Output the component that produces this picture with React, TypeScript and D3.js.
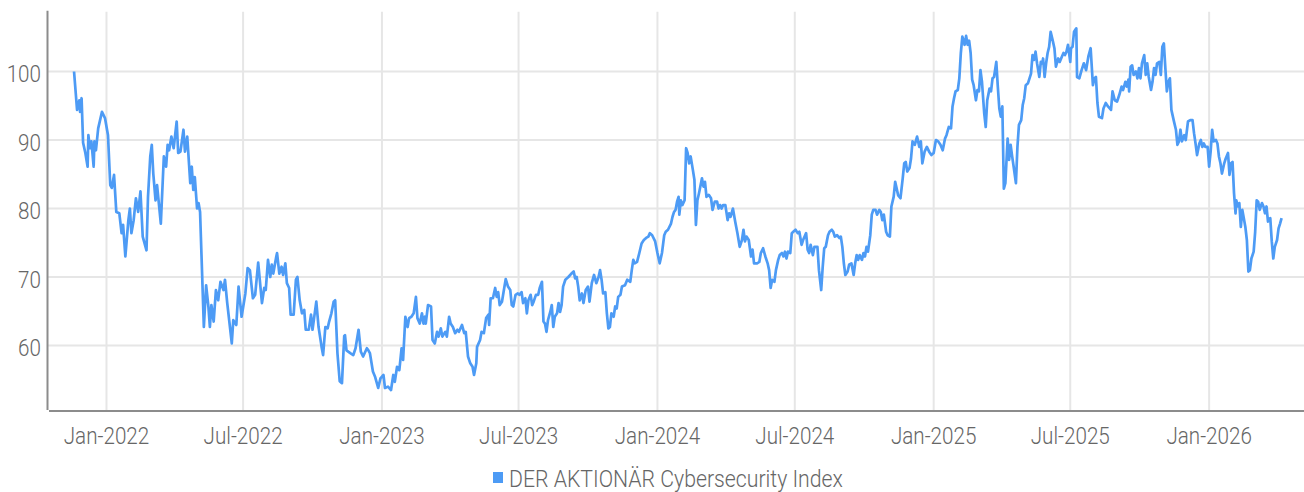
import React, { useEffect, useRef } from 'react';
import * as d3 from 'd3';

// index level per session, as [days since 2022-01-01, level]
const series2021: [number, number][] = [
  [-43, 100], [-39, 94.4], [-36, 95.8], [-35, 94.1], [-33, 96.1], [-31, 89.6], [-28, 88.1], [-25, 86.1],
  [-24, 90.7], [-22, 88.8], [-20, 89.8], [-17, 86.1], [-16, 89.8], [-14, 88.5], [-11, 91.7], [-6, 94.1], [-2, 93.2],
];

const series2022: [number, number][] = [
  [2, 90.7], [5, 83.4], [7, 83.0], [10, 84.9], [13, 79.5], [17, 79.3], [20, 76.4], [22, 77.6], [25, 73.0],
  [29, 78.3], [31, 80.0], [33, 76.4], [36, 78.3], [39, 81.5], [42, 79.5], [45, 82.5], [48, 75.9], [53, 73.9],
  [55, 81.7], [58, 87.6], [60, 89.3], [62, 85.1], [65, 81.2], [67, 83.4], [72, 77.8], [76, 87.6], [79, 86.1],
  [81, 89.3], [83, 88.5], [86, 90.5], [89, 88.8], [93, 92.7], [95, 88.1], [98, 88.3], [102, 91.5], [104, 88.3],
  [107, 90.5], [111, 83.7], [113, 86.1], [115, 82.7], [117, 84.6], [120, 80.0], [122, 80.8], [124, 79.5],
  [129, 62.7], [132, 68.8], [135, 65.7], [137, 62.7], [139, 65.9], [142, 63.5], [145, 68.1], [148, 66.6],
  [151, 69.3], [155, 68.1], [157, 69.6], [160, 66.2], [164, 62.3], [166, 60.3], [168, 63.7], [172, 63.0],
  [175, 68.6], [179, 64.2], [184, 67.6], [187, 71.3], [190, 71.0], [194, 66.9], [197, 67.4], [201, 72.1],
  [206, 66.2], [209, 68.4], [211, 68.1], [214, 72.5], [217, 70.0], [219, 71.8], [221, 70.5], [225, 73.0],
  [226, 73.5], [229, 70.5], [232, 71.5], [234, 70.3], [237, 72.0], [239, 69.1], [242, 68.4], [244, 64.5],
  [248, 64.5], [251, 69.6], [253, 70.0], [256, 66.6], [259, 64.7], [262, 65.2], [264, 62.3], [268, 62.3],
  [271, 64.5], [273, 62.3], [278, 66.4], [281, 62.7], [285, 59.8], [287, 58.6], [290, 62.7], [293, 62.5],
  [295, 63.5], [298, 64.7], [301, 66.4], [303, 66.6], [306, 58.9], [309, 54.8], [312, 54.5], [315, 61.4],
  [316, 61.5], [318, 59.3], [323, 58.9], [327, 58.6], [330, 59.6], [334, 62.3], [337, 59.1], [340, 58.4],
  [345, 59.6], [347, 59.3], [349, 58.9], [353, 56.2], [356, 55.4], [360, 53.8], [363, 55.2],
];

const series2023: [number, number][] = [
  [367, 55.7], [369, 53.8], [373, 54.0], [377, 53.5], [380, 55.7], [382, 54.7], [385, 56.9], [388, 56.4],
  [391, 59.6], [393, 57.9], [396, 64.2], [399, 62.7], [401, 64.0], [404, 64.2], [407, 64.7], [410, 67.1],
  [412, 64.0], [415, 63.2], [418, 64.7], [420, 63.2], [422, 64.2], [423, 63.2], [426, 65.9], [430, 65.7],
  [432, 60.8], [435, 60.3], [438, 62.0], [440, 61.3], [443, 62.5], [445, 61.3], [449, 62.0], [451, 61.3],
  [454, 64.2], [456, 63.2], [459, 62.7], [462, 61.8], [465, 62.3], [467, 62.0], [471, 63.0], [474, 61.8],
  [476, 62.0], [479, 58.4], [482, 57.4], [485, 56.9], [487, 55.7], [490, 57.4], [491, 59.8], [495, 60.8],
  [497, 62.0], [500, 61.8], [503, 64.0], [506, 64.5], [507, 63.0], [509, 66.9], [512, 66.9], [515, 68.4],
  [517, 67.1], [519, 67.8], [521, 65.9], [524, 66.4], [527, 68.4], [529, 69.7], [532, 68.6], [535, 68.1],
  [537, 65.9], [539, 65.7], [542, 67.4], [545, 67.6], [547, 67.4], [550, 67.8], [552, 66.2], [555, 66.9],
  [557, 64.7], [559, 66.6], [562, 67.4], [564, 65.9], [566, 66.4], [569, 67.4], [572, 67.4], [574, 68.4],
  [577, 69.3], [579, 63.5], [581, 63.2], [583, 62.0], [585, 63.7], [588, 64.9], [590, 65.9], [592, 62.7],
  [594, 64.2], [597, 64.7], [599, 66.2], [601, 64.9], [603, 65.9], [605, 68.6], [608, 69.6], [612, 70.0],
  [616, 70.5], [619, 70.8], [621, 69.8], [623, 70.0], [625, 68.6], [627, 66.6], [630, 67.6], [632, 66.2],
  [635, 68.1], [638, 68.6], [640, 66.4], [643, 69.1], [646, 70.3], [649, 69.1], [652, 70.0], [654, 71.0],
  [656, 69.6], [658, 67.6], [661, 67.8], [663, 64.7], [665, 62.5], [667, 62.7], [669, 64.7], [672, 64.2],
  [674, 65.7], [676, 65.4], [678, 67.1], [681, 67.4], [683, 68.6], [687, 68.8], [690, 69.6], [694, 69.3],
  [696, 71.0], [698, 72.5], [700, 72.0], [703, 72.2], [706, 73.5], [709, 74.9], [712, 75.4], [715, 75.7],
  [718, 75.9], [720, 76.4], [723, 76.1], [727, 75.2],
];

const series2024: [number, number][] = [
  [730, 73.5], [733, 72.0], [736, 73.5], [739, 76.1], [741, 76.6], [744, 76.9], [748, 77.8], [750, 78.8],
  [752, 79.5], [754, 79.8], [756, 81.0], [758, 81.7], [759, 79.1], [761, 81.2], [763, 80.5], [766, 81.2],
  [768, 88.8], [770, 88.1], [772, 86.6], [774, 87.6], [777, 85.6], [779, 84.2], [781, 77.6], [783, 81.2],
  [785, 82.2], [789, 84.4], [791, 83.2], [793, 83.9], [795, 81.7], [798, 82.0], [801, 81.5], [803, 79.8],
  [806, 81.0], [809, 81.0], [811, 80.0], [813, 80.5], [815, 80.0], [817, 80.5], [820, 80.5], [823, 78.3],
  [825, 79.3], [827, 78.8], [830, 80.0], [833, 78.1], [836, 76.4], [839, 74.4], [842, 75.4], [844, 76.9],
  [846, 75.2], [848, 75.9], [851, 75.4], [854, 73.0], [856, 74.0], [858, 72.0], [862, 72.0], [865, 72.2],
  [867, 73.5], [870, 74.2], [873, 73.0], [876, 72.0], [878, 71.0], [880, 68.4], [882, 69.6], [885, 69.3],
  [887, 71.0], [890, 72.5], [892, 73.2], [895, 73.5], [897, 73.0], [899, 73.7], [901, 72.7], [903, 73.7],
  [906, 73.5], [908, 76.4], [910, 76.6], [913, 76.9], [916, 76.4], [918, 76.6], [921, 74.7], [923, 75.4],
  [927, 76.4], [929, 74.0], [931, 73.5], [933, 74.7], [936, 73.2], [938, 74.4], [942, 74.4], [944, 71.0],
  [947, 68.1], [949, 71.5], [951, 74.2], [953, 74.4], [956, 76.1], [958, 76.6], [961, 76.9], [963, 76.6],
  [965, 75.9], [968, 76.1], [971, 75.7], [973, 75.9], [975, 74.4], [977, 72.0], [979, 70.3], [982, 70.8],
  [984, 71.8], [987, 72.0], [990, 70.3], [992, 72.0], [994, 73.2], [996, 72.5], [998, 73.2], [1001, 72.5],
  [1003, 73.5], [1005, 73.0], [1007, 74.4], [1009, 73.7], [1012, 76.1], [1014, 79.1], [1016, 79.8], [1019, 79.8],
  [1021, 79.1], [1024, 79.8], [1026, 79.5], [1028, 78.3], [1030, 79.1], [1033, 76.6], [1035, 76.1], [1038, 75.9],
  [1040, 80.3], [1043, 81.7], [1045, 83.9], [1047, 82.9], [1049, 81.9], [1052, 81.5], [1055, 84.4], [1057, 86.6],
  [1059, 86.8], [1061, 85.4], [1064, 85.9], [1066, 87.3], [1068, 89.8], [1071, 89.3], [1074, 90.5], [1077, 89.0],
  [1079, 89.8], [1081, 86.6], [1084, 88.3], [1087, 89.0], [1090, 88.3], [1093, 87.8],
];

const series2025: [number, number][] = [
  [1096, 88.1], [1099, 90.0], [1102, 89.8], [1105, 89.3], [1108, 88.5], [1111, 90.2], [1113, 90.7], [1116, 91.9],
  [1119, 91.7], [1121, 94.9], [1123, 96.1], [1125, 97.1], [1128, 97.3], [1130, 99.0], [1132, 102.7], [1134, 105.1],
  [1137, 103.9], [1139, 105.2], [1141, 103.9], [1143, 104.5], [1145, 102.7], [1147, 98.8], [1149, 98.0], [1152, 95.8],
  [1154, 97.3], [1156, 97.1], [1158, 100.2], [1160, 98.5], [1163, 93.9], [1165, 91.9], [1167, 95.8], [1170, 97.5],
  [1172, 97.1], [1174, 99.0], [1176, 99.2], [1179, 101.4], [1181, 97.8], [1183, 94.6], [1185, 93.4], [1187, 94.9],
  [1189, 82.9], [1191, 83.7], [1194, 90.2], [1196, 87.1], [1198, 89.3], [1200, 87.6], [1202, 86.1], [1205, 83.7],
  [1207, 89.0], [1209, 92.2], [1212, 92.9], [1214, 95.1], [1216, 96.1], [1218, 98.0], [1221, 98.3], [1223, 99.0],
  [1225, 99.7], [1227, 102.4], [1229, 101.7], [1231, 102.9], [1233, 101.2], [1236, 99.2], [1238, 101.4], [1240, 101.2],
  [1241, 101.9], [1243, 99.2], [1245, 101.2], [1247, 102.7], [1249, 103.6], [1251, 105.8], [1254, 104.4], [1256, 103.4],
  [1258, 100.7], [1261, 101.9], [1263, 101.4], [1266, 102.2], [1268, 102.7], [1270, 102.4], [1272, 102.9], [1274, 103.9],
  [1277, 101.4], [1278, 103.4], [1280, 103.6], [1282, 105.8], [1285, 106.3], [1286, 99.2], [1289, 99.0], [1292, 100.2],
  [1295, 101.2], [1298, 100.2], [1301, 102.2], [1304, 103.4], [1307, 98.0], [1309, 99.0], [1311, 99.2], [1313, 95.4],
  [1315, 93.4], [1319, 93.2], [1321, 94.6], [1324, 95.4], [1327, 94.9], [1331, 94.4], [1333, 97.1], [1336, 95.8],
  [1339, 95.6], [1342, 96.6], [1345, 97.8], [1347, 97.3], [1350, 98.5], [1352, 97.8], [1354, 98.8], [1355, 97.1],
  [1357, 100.7], [1359, 100.9], [1361, 99.5], [1364, 100.0], [1366, 99.0], [1368, 100.5], [1370, 99.0], [1372, 101.2],
  [1375, 102.4], [1377, 99.5], [1379, 101.2], [1381, 99.2], [1384, 97.3], [1386, 98.5], [1388, 100.5], [1390, 99.5],
  [1392, 101.2], [1395, 101.4], [1397, 99.5], [1399, 103.6], [1401, 104.1], [1403, 100.5], [1405, 97.1], [1407, 98.5],
  [1409, 99.0], [1411, 94.4], [1414, 92.9], [1417, 91.5], [1419, 89.3], [1421, 89.8], [1423, 91.5], [1425, 89.8],
  [1428, 90.7], [1430, 90.0], [1433, 92.7], [1436, 92.9], [1439, 92.9], [1441, 91.0], [1443, 89.5], [1445, 87.8],
  [1448, 89.5], [1450, 90.0], [1452, 89.0], [1454, 89.5], [1456, 89.0], [1459, 89.0],
];

const series2026: [number, number][] = [
  [1461, 86.1], [1463, 88.3], [1465, 91.5], [1467, 89.8], [1470, 90.0], [1472, 89.5], [1474, 87.6], [1476, 86.6],
  [1478, 85.1], [1481, 86.6], [1483, 87.3], [1486, 88.1], [1488, 84.9], [1490, 86.6], [1492, 86.8], [1494, 82.2],
  [1496, 79.3], [1497, 81.2], [1499, 80.3], [1501, 80.8], [1503, 77.3], [1505, 79.8], [1509, 77.3], [1511, 75.4],
  [1513, 70.8], [1515, 71.0], [1517, 72.7], [1520, 73.7], [1522, 76.6], [1524, 81.2], [1526, 81.0], [1528, 79.8],
  [1531, 80.8], [1533, 80.3], [1535, 79.3], [1537, 80.3], [1539, 78.1], [1542, 78.6], [1544, 75.2], [1546, 72.7],
  [1548, 74.4], [1551, 75.4], [1553, 77.1], [1555, 77.8], [1557, 78.6],
];

const yTicks = [60, 70, 80, 90, 100];
const yExtent = [50.44, 108.73];
const xTickLabels = ['Jan-2022', 'Jul-2022', 'Jan-2023', 'Jul-2023', 'Jan-2024', 'Jul-2024', 'Jan-2025', 'Jul-2025', 'Jan-2026'];
const xExtentDays = [-77.5, 1586.7];
const seriesName = 'DER AKTIONÄR Cybersecurity Index';

const baseDate = new Date(2022, 0, 1);
const toDate = (d: number) => new Date(baseDate.getTime() + d * 864e5);

const App = () => {
  const svgRef = useRef<SVGSVGElement>(null);

  useEffect(() => {
    const width = 1304;
    const height = 492;
    const textColor = '#666';
    const lineColor = '#4d9bf5';

    const svg = d3.select(svgRef.current);
    svg.selectAll('*').remove();
    svg.attr('width', width).attr('height', height);

    // condensed look: Roboto Light squeezed horizontally
    const addText = (g: any, tx: number, ty: number, label: string, anchor: string, sx = 0.86) =>
      g.append('text')
        .attr('transform', `translate(${tx},${ty}) scale(${sx},1)`)
        .attr('text-anchor', anchor)
        .attr('font-family', 'Roboto, sans-serif')
        .attr('font-weight', 300)
        .attr('font-size', 24)
        .attr('fill', textColor)
        .text(label);

    const data = [...series2021, ...series2022, ...series2023, ...series2024, ...series2025, ...series2026]
      .map(([d, v]) => ({ date: toDate(d), value: v }));

    const x = d3.scaleTime()
      .domain(xExtentDays.map(toDate))
      .range([48, width]);

    const y = d3.scaleLinear()
      .domain(yExtent)
      .range([411, 11.7]);

    const parse = d3.timeParse('%b-%Y');
    const tickDates = xTickLabels.map(l => parse(l) as Date);

    // grid
    svg.append('g')
      .selectAll('line')
      .data(yTicks)
      .enter().append('line')
      .attr('x1', 48).attr('x2', width)
      .attr('y1', d => y(d)).attr('y2', d => y(d))
      .attr('stroke', '#e6e6e6').attr('stroke-width', 2);

    svg.append('g')
      .selectAll('line')
      .data(tickDates)
      .enter().append('line')
      .attr('x1', d => x(d)).attr('x2', d => x(d))
      .attr('y1', 11.7).attr('y2', 410)
      .attr('stroke', '#e6e6e6').attr('stroke-width', 2);

    // axis lines
    svg.append('line')
      .attr('x1', 47.5).attr('x2', 47.5).attr('y1', 10.7).attr('y2', 410)
      .attr('stroke', '#8c8c8c').attr('stroke-width', 2);
    svg.append('line')
      .attr('x1', 49).attr('x2', width).attr('y1', 411).attr('y2', 411)
      .attr('stroke', '#8c8c8c').attr('stroke-width', 2);

    // tick labels
    const yLabels = svg.append('g');
    yTicks.forEach(t => addText(yLabels, 41, y(t) + 10.8, String(t), 'end'));

    const xLabels = svg.append('g');
    tickDates.forEach(d => addText(xLabels, x(d), 444, d3.timeFormat('%b-%Y')(d), 'middle'));

    // series
    const line = d3.line<{ date: Date; value: number }>()
      .x(d => x(d.date))
      .y(d => y(d.value));

    svg.append('path')
      .datum(data)
      .attr('fill', 'none')
      .attr('stroke', lineColor)
      .attr('stroke-width', 2.7)
      .attr('stroke-linejoin', 'round')
      .attr('d', line);

    // legend
    const legend = svg.append('g');
    legend.append('rect')
      .attr('x', 493).attr('y', 472).attr('width', 10).attr('height', 11)
      .attr('fill', lineColor);
    addText(legend, 509, 486.5, seriesName, 'start', 0.885);
  }, []);

  return <svg ref={svgRef} style={{ position: 'absolute', left: 0, top: 0 }}></svg>;
};

export default App;
